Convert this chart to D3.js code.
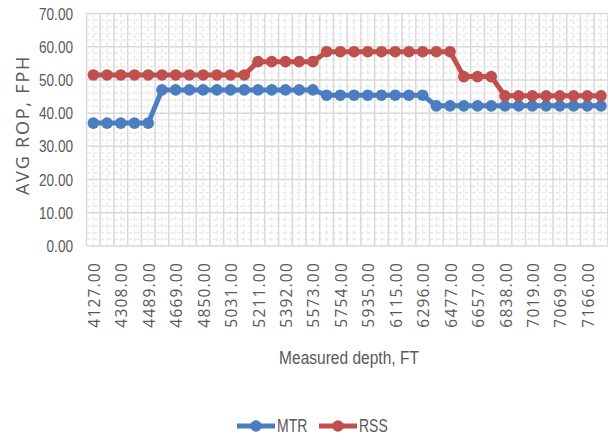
<!DOCTYPE html>
<html>
<head>
<meta charset="utf-8">
<script src="https://cdn.jsdelivr.net/npm/d3@7"></script>
<style>
  html, body { margin: 0; padding: 0; background: #ffffff; }
  svg { display: block; }
</style>
</head>
<body>
<svg id="chart" width="608" height="438"></svg>
<script>
// Measured depth of each sample (only every other one is labelled on the axis)
const depths = [
  "4127.00","4217.00","4308.00","4398.00","4489.00","4579.00","4669.00","4760.00",
  "4850.00","4940.00","5031.00","5121.00","5211.00","5302.00","5392.00","5482.00",
  "5573.00","5663.00","5754.00","5844.00","5935.00","6025.00","6115.00","6206.00",
  "6296.00","6386.00","6477.00","6567.00","6657.00","6748.00","6838.00","6928.00",
  "7019.00","7044.00","7069.00","7118.00","7166.00","7190.00"
];

// Average rate of penetration, ft/h
const mtr = [
  37, 37, 37, 37, 37,
  47, 47, 47, 47, 47, 47, 47, 47, 47, 47, 47, 47,
  45.4, 45.4, 45.4, 45.4, 45.4, 45.4, 45.4, 45.4,
  42.2, 42.2, 42.2, 42.2, 42.2, 42.2, 42.2, 42.2, 42.2, 42.2, 42.2, 42.2, 42.2
];
const rss = [
  51.5, 51.5, 51.5, 51.5, 51.5, 51.5, 51.5, 51.5, 51.5, 51.5, 51.5, 51.5,
  55.5, 55.5, 55.5, 55.5, 55.5,
  58.5, 58.5, 58.5, 58.5, 58.5, 58.5, 58.5, 58.5, 58.5, 58.5,
  51, 51, 51,
  45.2, 45.2, 45.2, 45.2, 45.2, 45.2, 45.2, 45.2
];

const yTicks = [0, 10, 20, 30, 40, 50, 60, 70];
const yMinor = [2, 4, 6, 8, 12, 14, 16, 18, 22, 24, 26, 28, 32, 34, 36, 38,
                42, 44, 46, 48, 52, 54, 56, 58, 62, 64, 66, 68];

const series = [
  { name: "MTR", values: mtr, color: "#4a7ec0" },
  { name: "RSS", values: rss, color: "#c0504d" }
];

const svg = d3.select("#chart");
const plot = { left: 86.5, top: 13.5, bottom: 246 };
const step = 13.72;
const xRight = plot.left + step * depths.length;

const x = d3.scaleBand()
  .domain(depths)
  .range([plot.left, xRight])
  .paddingInner(0).paddingOuter(0);
const y = d3.scaleLinear().domain([0, 70]).range([plot.bottom, plot.top]);
const cx = d => x(d) + x.bandwidth() / 2;

// condensed text: a narrow sans drawn with a horizontal squeeze
const NARROW = "'Liberation Sans', Arial, sans-serif";
function narrowText(parent, tx, ty, str, size, anchor, squeeze) {
  return parent.append("g")
    .attr("transform", `translate(${tx},${ty}) scale(${squeeze},1)`)
    .append("text")
    .attr("dy", "0.36em")
    .attr("text-anchor", anchor)
    .attr("font-family", NARROW)
    .attr("font-size", size)
    .attr("fill", "#595959")
    .text(str);
}

const grid = svg.append("g");

// minor horizontal gridlines
grid.selectAll("line.hmin").data(yMinor).join("line")
  .attr("x1", plot.left).attr("x2", xRight)
  .attr("y1", d => y(d)).attr("y2", d => y(d))
  .attr("stroke", "#eaeaea").attr("stroke-width", 1.5)
  .attr("stroke-dasharray", "4,3");

// minor vertical gridlines at category centres
grid.selectAll("line.vmin").data(depths).join("line")
  .attr("x1", d => cx(d)).attr("x2", d => cx(d))
  .attr("y1", plot.top).attr("y2", plot.bottom)
  .attr("stroke", "#eaeaea").attr("stroke-width", 1.5)
  .attr("stroke-dasharray", "4,3");

// major vertical gridlines at category boundaries
const bounds = depths.map(d => x(d)).concat([xRight]);
grid.selectAll("line.vmaj").data(bounds).join("line")
  .attr("x1", d => d).attr("x2", d => d)
  .attr("y1", plot.top).attr("y2", plot.bottom)
  .attr("stroke", "#d9d9d9").attr("stroke-width", 1.5);

// major horizontal gridlines
grid.selectAll("line.hmaj").data(yTicks).join("line")
  .attr("x1", plot.left).attr("x2", xRight)
  .attr("y1", d => y(d)).attr("y2", d => y(d))
  .attr("stroke", "#d9d9d9").attr("stroke-width", 1.5);

// y axis labels
const yLab = svg.append("g");
yTicks.forEach(t => narrowText(yLab, 73, y(t), t.toFixed(2), 17, "end", 0.8));

// x axis labels, every second category
svg.append("g").selectAll("text")
  .data(depths.filter((d, i) => i % 2 === 0)).join("text")
  .attr("transform", d => `translate(${cx(d) + 1},262) rotate(-90)`)
  .attr("dy", "0.36em")
  .attr("text-anchor", "end")
  .attr("font-family", "'Open Sans', sans-serif")
  .attr("font-size", 15.5).attr("letter-spacing", 1.2)
  .attr("fill", "#595959")
  .text(d => d);

// axis titles
svg.append("text")
  .attr("transform", "translate(23,125) rotate(-90)")
  .attr("dy", "0.36em")
  .attr("text-anchor", "middle")
  .attr("font-family", "'Open Sans', sans-serif")
  .attr("font-size", 18).attr("letter-spacing", 1.8)
  .attr("fill", "#595959")
  .text("AVG ROP, FPH");

narrowText(svg, 349, 357, "Measured depth, FT", 18.5, "middle", 0.84);

// series lines and markers
const line = d3.line().x((v, i) => cx(depths[i])).y(v => y(v));
series.forEach(s => {
  const g = svg.append("g");
  g.append("path").datum(s.values)
    .attr("d", line).attr("fill", "none")
    .attr("stroke", s.color).attr("stroke-width", 5)
    .attr("stroke-linejoin", "round");
  g.selectAll("circle").data(s.values).join("circle")
    .attr("cx", (v, i) => cx(depths[i])).attr("cy", v => y(v))
    .attr("r", 5.8).attr("fill", s.color);
});

// legend
const legend = svg.append("g").attr("transform", "translate(237,426)");
series.forEach((s, i) => {
  const g = legend.append("g").attr("transform", `translate(${i * 82},0)`);
  g.append("line").attr("x1", 0).attr("x2", 38).attr("y1", 0).attr("y2", 0)
    .attr("stroke", s.color).attr("stroke-width", 5);
  g.append("circle").attr("cx", 19).attr("cy", 0).attr("r", 5.8).attr("fill", s.color);
  narrowText(g, 40, 0, s.name, 17.5, "start", 0.8);
});
</script>
</body>
</html>
